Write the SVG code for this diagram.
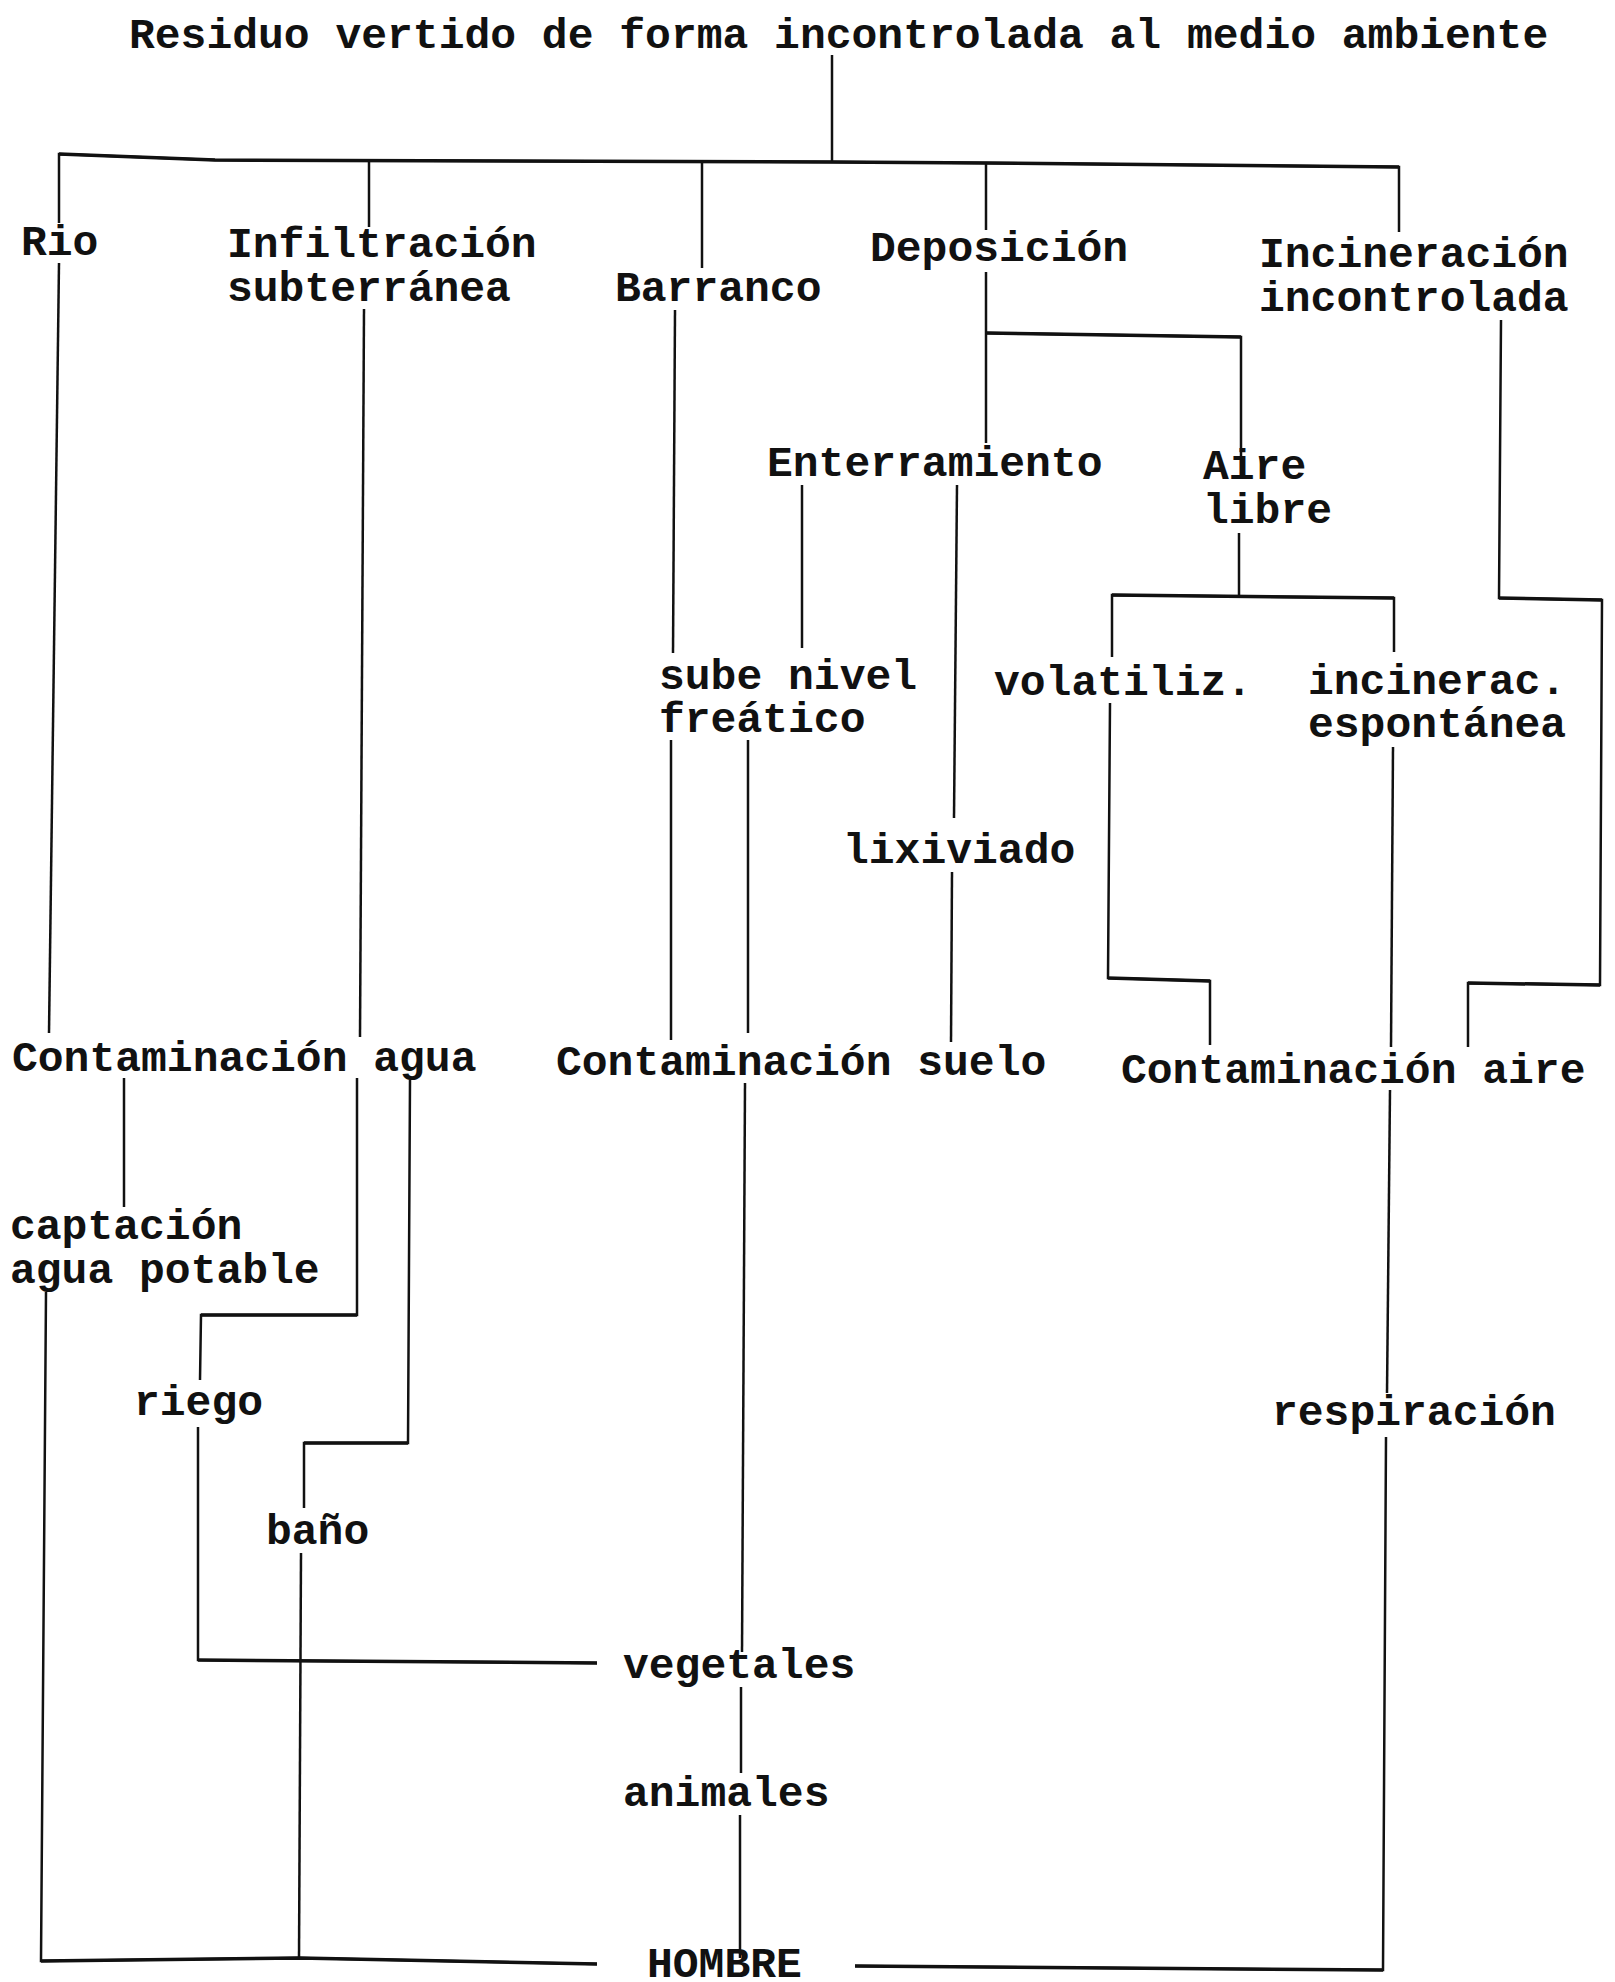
<svg xmlns="http://www.w3.org/2000/svg" width="1615" height="1982" viewBox="0 0 1615 1982">
<style>
.t{font-family:"Liberation Mono","Courier New",monospace;font-size:43px;font-weight:bold;fill:#111}
.c{fill:none;stroke:#111;stroke-width:2.5;stroke-linejoin:miter}
.h{fill:none;stroke:#111;stroke-width:3.5}
</style>
<rect x="0" y="0" width="1615" height="1982" fill="#ffffff"/>
<g id="connectors" class="c">
<polyline points="832,55 832,162"/>
<polyline points="59,223 59,154 215,160 832,162 986,163 1399,167 1399,232"/>
<polyline points="369,160 369,227"/>
<polyline points="702,161 702,268"/>
<polyline points="986,163 986,230"/>
<polyline points="59,263 49,1033"/>
<polyline points="364,309 360,1037"/>
<polyline points="675,310 673,653"/>
<polyline points="671,740 671,1040"/>
<polyline points="986,272 986,443"/>
<polyline points="986,333 1241,337 1241,457"/>
<polyline points="802,485 802,648"/>
<polyline points="748,740 748,1033"/>
<polyline points="957,485 954,818"/>
<polyline points="952,872 951,1042"/>
<polyline points="1239,533 1239,596"/>
<polyline points="1112,657 1112,595 1394,598 1394,652"/>
<polyline points="1110,703 1108,978 1210,981 1210,1045"/>
<polyline points="1501,320 1499,598 1602,600 1600,985 1468,983 1468,1047"/>
<polyline points="1393,747 1391,1047"/>
<polyline points="124,1078 124,1207"/>
<polyline points="357,1078 357,1315 201,1315 200,1380"/>
<polyline points="198,1427 198,1660 597,1663"/>
<polyline points="410,1080 408,1443 304,1443 304,1508"/>
<polyline points="301,1553 299,1958"/>
<polyline points="46,1292 41,1961 299,1958 597,1964"/>
<polyline points="745,1083 742,1652"/>
<polyline points="741,1687 741,1773"/>
<polyline points="740,1815 740,1958"/>
<polyline points="1390,1090 1387,1393"/>
<polyline points="1386,1437 1383,1970 855,1966"/>
<g class="h">
<polyline points="59,154 215,160 832,162 986,163 1399,167"/>
<polyline points="986,333 1241,337"/>
<polyline points="1112,595 1394,598"/>
<polyline points="1108,978 1210,981"/>
<polyline points="1499,598 1602,600"/>
<polyline points="1600,985 1468,983"/>
<polyline points="357,1315 201,1315"/>
<polyline points="198,1660 597,1663"/>
<polyline points="408,1443 304,1443"/>
<polyline points="41,1961 299,1958 597,1964"/>
<polyline points="1383,1970 855,1966"/>
</g>
</g>
<g id="n-residuo"><text class="t" x="129" y="48">Residuo vertido de forma incontrolada al medio ambiente</text></g>
<g id="n-rio"><text class="t" x="21" y="255">Rio</text></g>
<g id="n-infiltracion"><text class="t" x="227" y="257">Infiltración</text><text class="t" x="227" y="301">subterránea</text></g>
<g id="n-barranco"><text class="t" x="615" y="301">Barranco</text></g>
<g id="n-deposicion"><text class="t" x="870" y="261">Deposición</text></g>
<g id="n-incineracion"><text class="t" x="1259" y="267">Incineración</text><text class="t" x="1259" y="311">incontrolada</text></g>
<g id="n-enterramiento"><text class="t" x="767" y="476">Enterramiento</text></g>
<g id="n-aire-libre"><text class="t" x="1203" y="479">Aire</text><text class="t" x="1203" y="523">libre</text></g>
<g id="n-sube-nivel"><text class="t" x="659" y="689">sube nivel</text><text class="t" x="659" y="732">freático</text></g>
<g id="n-volatiliz"><text class="t" x="994" y="695">volatiliz.</text></g>
<g id="n-incinerac"><text class="t" x="1308" y="694">incinerac.</text><text class="t" x="1308" y="737">espontánea</text></g>
<g id="n-lixiviado"><text class="t" x="843" y="863">lixiviado</text></g>
<g id="n-cont-agua"><text class="t" x="12" y="1071">Contaminación agua</text></g>
<g id="n-cont-suelo"><text class="t" x="556" y="1075">Contaminación suelo</text></g>
<g id="n-cont-aire"><text class="t" x="1121" y="1083">Contaminación aire</text></g>
<g id="n-captacion"><text class="t" x="10" y="1239">captación</text><text class="t" x="10" y="1283">agua potable</text></g>
<g id="n-riego"><text class="t" x="134" y="1415">riego</text></g>
<g id="n-respiracion"><text class="t" x="1272" y="1425">respiración</text></g>
<g id="n-bano"><text class="t" x="266" y="1544">baño</text></g>
<g id="n-vegetales"><text class="t" x="623" y="1678">vegetales</text></g>
<g id="n-animales"><text class="t" x="623" y="1806">animales</text></g>
<g id="n-hombre"><text class="t" x="647" y="1977">HOMBRE</text></g>
</svg>
